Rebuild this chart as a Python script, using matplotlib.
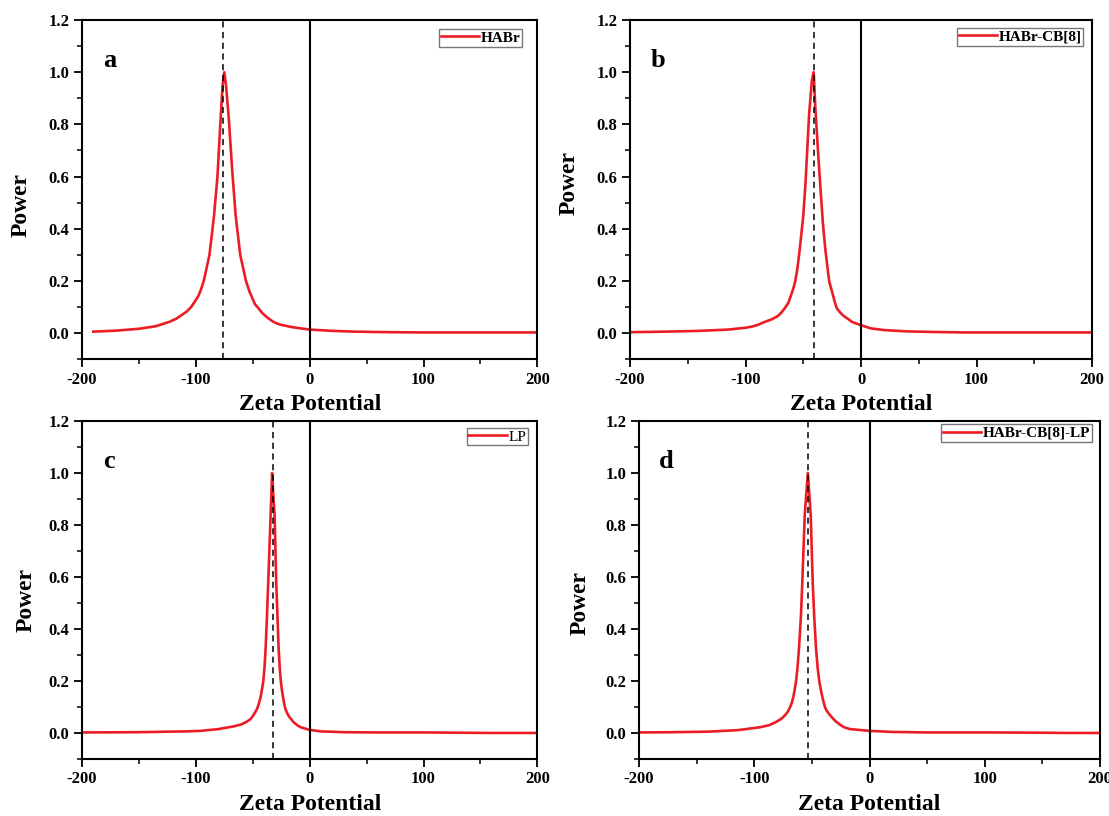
import numpy as np
import matplotlib
matplotlib.use("Agg")
import matplotlib.pyplot as plt
from matplotlib.ticker import MultipleLocator, FormatStrFormatter

plt.rcParams["font.family"] = ["Liberation Serif", "DejaVu Serif"]
plt.rcParams["font.weight"] = "bold"
plt.rcParams["axes.unicode_minus"] = False

# ===== Data =====
# a: HABr
xa = [-190, -170, -150, -135, -123, -117, -112, -108, -104, -101, -98, -96, -93,
      -88, -84, -81, -78.5, -76.5, -75, -73.5, -71, -68, -65, -61, -56, -53,
      -50, -48, -45, -42, -38, -35, -32, -29, -26, -15, 0, 20, 40, 70, 100, 150,
      200]
ya = [0.005, 0.009, 0.016, 0.026, 0.043, 0.055, 0.07, 0.082, 0.1, 0.12, 0.14,
      0.16, 0.2, 0.3, 0.45, 0.6, 0.8, 0.95, 1.0, 0.95, 0.82, 0.62, 0.45, 0.3,
      0.2, 0.16, 0.13, 0.11, 0.095, 0.078, 0.062, 0.052, 0.043, 0.037, 0.032,
      0.022, 0.013, 0.008, 0.005, 0.003, 0.002, 0.002, 0.002]
peak_a = -76

# b: HABr-CB[8]
xb = [-200, -170, -140, -115, -100, -95, -90, -83, -77, -72, -69, -66, -63, -61,
      -59, -57, -55, -53, -50, -48, -45, -42.5, -41, -39.5, -37, -35.5, -33, -31,
      -29, -27.5, -25.5, -24, -22.5, -21, -18, -15, -11, -8, -4, 0, 8, 20, 40,
      60, 90, 130, 200]
yb = [0.003, 0.005, 0.008, 0.013, 0.02, 0.024, 0.03, 0.043, 0.053, 0.065, 0.078,
      0.095, 0.115, 0.14, 0.165, 0.197, 0.25, 0.324, 0.45, 0.58, 0.835, 0.97,
      1.0, 0.86, 0.68, 0.58, 0.42, 0.324, 0.25, 0.197, 0.165, 0.14, 0.115, 0.095,
      0.078, 0.065, 0.053, 0.043, 0.036, 0.03, 0.018, 0.011, 0.006, 0.004, 0.002,
      0.002, 0.002]
peak_b = -41

# c: LP
xc = [-200, -150, -110, -96, -80, -66, -60, -55.4, -52, -50, -48, -46, -44.5,
      -43, -42, -40.8, -39.7, -38.7, -37.5, -36.4, -34.3, -33, -31.8, -30.8,
      -29.4, -28.3, -27.3, -26.3, -25.3, -24.4, -23.5, -22.5, -21.5, -20, -18,
      -16, -14.5, -11, -8, 0, 10, 30, 60, 100, 130, 160, 200]
yc = [0.002, 0.003, 0.006, 0.008, 0.015, 0.026, 0.033, 0.043, 0.053, 0.065,
      0.078, 0.095, 0.115, 0.14, 0.165, 0.197, 0.25, 0.325, 0.45, 0.581, 0.838,
      1.0, 0.9, 0.838, 0.581, 0.45, 0.325, 0.25, 0.197, 0.165, 0.14, 0.115,
      0.095, 0.078, 0.062, 0.052, 0.043, 0.03, 0.022, 0.012, 0.006, 0.003, 0.002,
      0.002, 0.001, 0.0, 0.0]
peak_c = -32.5

# d: HABr-CB[8]-LP
xd = [-200, -170, -140, -114, -95, -87, -80.8, -77, -74, -71.5, -69.3, -67.5,
      -66, -65, -63.8, -62.5, -61.2, -59.5, -58.3, -56.2, -53.5, -51, -49.3, -48,
      -46.4, -45, -43.5, -42.2, -41, -39.6, -38.3, -36, -33, -31, -28.8, -25,
      -22, -17, 0, 20, 50, 100, 150, 170, 200]
yd = [0.002, 0.003, 0.005, 0.011, 0.022, 0.03, 0.043, 0.053, 0.065, 0.078, 0.095,
      0.115, 0.14, 0.165, 0.197, 0.25, 0.325, 0.45, 0.581, 0.838, 1.0, 0.838,
      0.581, 0.45, 0.325, 0.25, 0.197, 0.165, 0.14, 0.115, 0.095, 0.078, 0.062,
      0.052, 0.043, 0.03, 0.022, 0.015, 0.008, 0.004, 0.002, 0.002, 0.001, 0.0,
      0.0]
peak_d = -53

panels = [
    ("a", "HABr", xa, ya, peak_a, "bold"),
    ("b", "HABr-CB[8]", xb, yb, peak_b, "bold"),
    ("c", "LP", xc, yc, peak_c, "normal"),
    ("d", "HABr-CB[8]-LP", xd, yd, peak_d, "bold"),
]

# axes rectangles in figure fractions (from pixel positions of the original)
rects = [
    [0.0739, 0.5600, 0.4107, 0.4154],
    [0.5681, 0.5600, 0.4166, 0.4154],
    [0.0739, 0.0699, 0.4107, 0.4142],
    [0.5762, 0.0699, 0.4157, 0.4142],
]
# ylabel positions (axes fraction) as placed in the original
ylab_pos = [(-0.11, 0.455), (-0.11, 0.52), (-0.10, 0.47), (-0.105, 0.46)]
# legend upper-right corners (axes fraction)
leg_pos = [(0.967, 0.973), (0.981, 0.976), (0.979, 0.979), (0.983, 0.99)]

fig = plt.figure(figsize=(11.09, 8.16), dpi=100)

for (letter, name, x, y, peak, wt), rect, ylp, lp in zip(panels, rects,
                                                          ylab_pos, leg_pos):
    x = np.asarray(x, dtype=float)
    y = np.asarray(y, dtype=float)
    order = np.argsort(x)
    ax = fig.add_axes(rect)
    ax.plot(x[order], y[order], color="#ec1c24", linewidth=1.9, label=name)
    ax.axvline(peak, color="black", linestyle=(0, (4, 3)), linewidth=1.1)
    ax.axvline(0, color="black", linewidth=1.5)

    ax.set_xlim(-200, 200)
    ax.set_ylim(-0.1, 1.2)
    ax.xaxis.set_major_locator(MultipleLocator(100))
    ax.xaxis.set_minor_locator(MultipleLocator(50))
    ax.yaxis.set_major_locator(MultipleLocator(0.2))
    ax.yaxis.set_minor_locator(MultipleLocator(0.1))
    ax.yaxis.set_major_formatter(FormatStrFormatter("%.1f"))
    ax.tick_params(which="major", direction="out", length=6, width=1.3,
                   labelsize=12, pad=3)
    ax.tick_params(which="minor", direction="out", length=3.5, width=1.1)
    for lab in ax.get_xticklabels() + ax.get_yticklabels():
        lab.set_fontweight("bold")
    for sp in ax.spines.values():
        sp.set_linewidth(1.5)

    ax.set_xlabel("Zeta Potential", fontsize=17, fontweight="bold", labelpad=5)
    ax.set_ylabel("Power", fontsize=17, fontweight="bold")
    ax.yaxis.set_label_coords(*ylp)
    ax.text(0.06, 0.88, letter, transform=ax.transAxes, fontsize=19,
            fontweight="bold", ha="center", va="center")

    leg = ax.legend(loc="upper right", bbox_to_anchor=lp, frameon=True,
                    fancybox=False, borderpad=0.12, handlelength=2.5,
                    handletextpad=0.1, borderaxespad=0.0,
                    prop={"weight": wt, "size": 11})
    leg.get_frame().set_edgecolor("#555555")
    leg.get_frame().set_linewidth(1.0)

plt.savefig("out.png", dpi=100)
plt.close()
